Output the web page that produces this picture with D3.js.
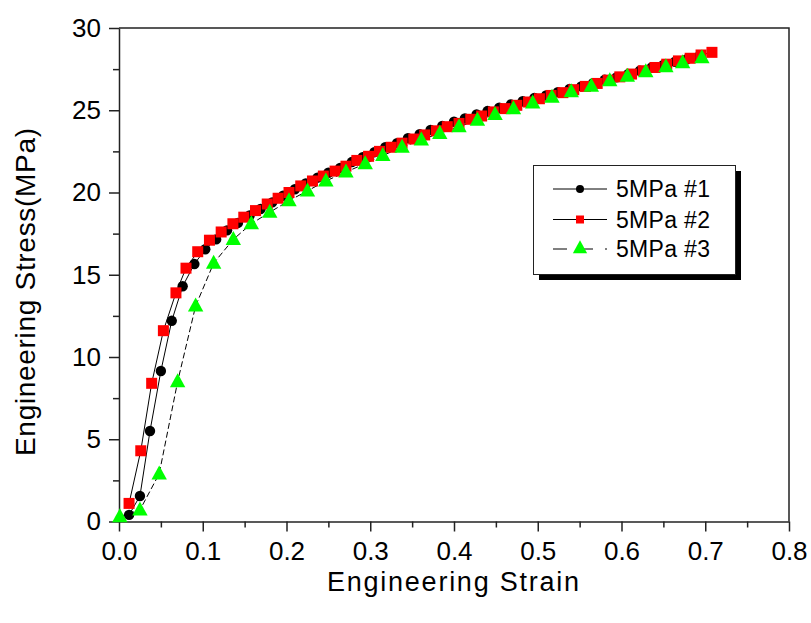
<!DOCTYPE html>
<html>
<head>
<meta charset="utf-8">
<script src="https://cdn.jsdelivr.net/npm/d3@7"></script>
<style>
  html, body { margin: 0; padding: 0; background: #fff; }
  svg { display: block; }
  text { font-family: Arial, "Liberation Sans", sans-serif; fill: #000; }
</style>
</head>
<body>
<svg id="chart" width="811" height="623"></svg>
<script>
// ---- Data ----
const seriesNames = ["5MPa #1", "5MPa #2", "5MPa #3"];

const strain1 = [0.012, 0.025, 0.037, 0.050, 0.063, 0.076, 0.090, 0.103, 0.116, 0.129,
  0.142, 0.156, 0.169, 0.183, 0.196, 0.210, 0.223, 0.237, 0.250, 0.264,
  0.278, 0.291, 0.305, 0.318, 0.332, 0.345, 0.359, 0.372, 0.386, 0.400,
  0.413, 0.427, 0.440, 0.454, 0.468, 0.482, 0.496, 0.510, 0.524, 0.538,
  0.552, 0.566, 0.580, 0.594, 0.608, 0.622, 0.636, 0.650, 0.664, 0.678, 0.692];
const stress1 = [0.4, 1.55, 5.5, 9.15, 12.2, 14.3, 15.65, 16.55, 17.15, 17.7,
  18.15, 18.6, 19.0, 19.4, 19.8, 20.2, 20.55, 20.9, 21.2, 21.5,
  21.85, 22.15, 22.45, 22.75, 23.0, 23.3, 23.55, 23.8, 24.05, 24.3,
  24.5, 24.75, 24.95, 25.15, 25.35, 25.55, 25.75, 25.9, 26.1, 26.3,
  26.45, 26.65, 26.85, 27.0, 27.2, 27.4, 27.6, 27.75, 27.95, 28.1, 28.25];

const strain2 = [0.012, 0.026, 0.039, 0.053, 0.068, 0.080, 0.094, 0.108, 0.122, 0.136,
  0.149, 0.163, 0.177, 0.190, 0.203, 0.217, 0.231, 0.244, 0.258, 0.271,
  0.284, 0.298, 0.311, 0.325, 0.338, 0.352, 0.365, 0.379, 0.392, 0.406,
  0.420, 0.433, 0.447, 0.461, 0.475, 0.489, 0.502, 0.516, 0.530, 0.543,
  0.557, 0.571, 0.584, 0.598, 0.612, 0.626, 0.640, 0.654, 0.668, 0.682, 0.695, 0.708];
const stress2 = [1.1, 4.3, 8.4, 11.6, 13.9, 15.4, 16.4, 17.1, 17.6, 18.1,
  18.5, 18.9, 19.3, 19.65, 20.0, 20.4, 20.7, 21.0, 21.3, 21.6,
  21.95, 22.2, 22.5, 22.75, 23.0, 23.25, 23.5, 23.75, 24.0, 24.2,
  24.45, 24.65, 24.9, 25.1, 25.3, 25.5, 25.7, 25.9, 26.07, 26.25,
  26.45, 26.63, 26.83, 27.03, 27.2, 27.4, 27.6, 27.8, 28.0, 28.16, 28.36, 28.52];

const strain3 = [0.001, 0.025, 0.048, 0.070, 0.0915, 0.113, 0.1365, 0.158, 0.180, 0.203,
  0.225, 0.247, 0.271, 0.294, 0.315, 0.338, 0.361, 0.383, 0.406, 0.428,
  0.449, 0.471, 0.494, 0.517, 0.540, 0.564, 0.586, 0.607, 0.629, 0.653, 0.673, 0.696];
const stress3 = [0.3, 0.7, 2.9, 8.5, 13.1, 15.7, 17.15, 18.1, 18.8, 19.5,
  20.1, 20.7, 21.25, 21.75, 22.25, 22.75, 23.2, 23.6, 24.0, 24.4,
  24.75, 25.1, 25.45, 25.8, 26.13, 26.47, 26.8, 27.08, 27.35, 27.65, 27.9, 28.2];

const xTicks = [0, 0.1, 0.2, 0.3, 0.4, 0.5, 0.6, 0.7, 0.8];
const xTickLabels = ["0.0", "0.1", "0.2", "0.3", "0.4", "0.5", "0.6", "0.7", "0.8"];
const yTicks = [0, 5, 10, 15, 20, 25, 30];
const xMinor = [0.05, 0.15, 0.25, 0.35, 0.45, 0.55, 0.65, 0.75];
const yMinor = [2.5, 7.5, 12.5, 17.5, 22.5, 27.5];

// ---- Layout ----
const svg = d3.select("#chart");
const pLeft = 119, pRight = 789, pTop = 28, pBottom = 521.5;
const x = d3.scaleLinear().domain([0, 0.8]).range([pLeft, pRight]);
const y = d3.scaleLinear().domain([0, 30]).range([pBottom, pTop]);
const axisColor = "#222";

// frame (top & right)
svg.append("path")
  .attr("d", `M${pLeft},${pTop}H${pRight}V${pBottom}`)
  .attr("fill", "none").attr("stroke", axisColor).attr("stroke-width", 1.5);

function styleAxis(g) {
  g.selectAll(".domain").attr("stroke", axisColor).attr("stroke-width", 1.5);
  g.selectAll(".tick line").attr("stroke", axisColor).attr("stroke-width", 1.5);
  g.selectAll("text").attr("font-size", 26).attr("font-family", "Arial, 'Liberation Sans', sans-serif").attr("fill", "#000");
}

// x axis
const gx = svg.append("g").attr("transform", `translate(0,${pBottom})`)
  .call(d3.axisBottom(x).tickValues(xTicks).tickSize(10).tickSizeOuter(0)
    .tickPadding(10).tickFormat((d, i) => xTickLabels[i]));
styleAxis(gx);
const gxm = svg.append("g").attr("transform", `translate(0,${pBottom})`)
  .call(d3.axisBottom(x).tickValues(xMinor).tickSize(6).tickFormat(""));
gxm.select(".domain").remove();
styleAxis(gxm);

// y axis
const gy = svg.append("g").attr("transform", `translate(${pLeft},0)`)
  .call(d3.axisLeft(y).tickValues(yTicks).tickSize(10).tickSizeOuter(0)
    .tickPadding(8).tickFormat(d3.format("d")));
styleAxis(gy);
const gym = svg.append("g").attr("transform", `translate(${pLeft},0)`)
  .call(d3.axisLeft(y).tickValues(yMinor).tickSize(6).tickFormat(""));
gym.select(".domain").remove();
styleAxis(gym);

// axis titles
svg.append("text")
  .attr("x", 453).attr("y", 591)
  .attr("text-anchor", "middle")
  .attr("font-size", 27)
  .attr("textLength", 252).attr("lengthAdjust", "spacing")
  .text("Engineering Strain");
svg.append("text")
  .attr("transform", "translate(35,292) rotate(-90)")
  .attr("text-anchor", "middle")
  .attr("font-size", 28)
  .attr("textLength", 328).attr("lengthAdjust", "spacing")
  .text("Engineering Stress(MPa)");

// ---- Series ----
const data1 = strain1.map((s, i) => [s, stress1[i]]);
const data2 = strain2.map((s, i) => [s, stress2[i]]);
const data3 = strain3.map((s, i) => [s, stress3[i]]);
const line = d3.line().x(d => x(d[0])).y(d => y(d[1]));

const plot = svg.append("g");
// lines
plot.append("path").datum(data1).attr("d", line)
  .attr("fill", "none").attr("stroke", "#000").attr("stroke-width", 1);
plot.append("path").datum(data2).attr("d", line)
  .attr("fill", "none").attr("stroke", "#000").attr("stroke-width", 1);
plot.append("path").datum(data3).attr("d", line)
  .attr("fill", "none").attr("stroke", "#000").attr("stroke-width", 1)
  .attr("stroke-dasharray", "6,3");

function triPath(cx, cy, s) {
  return `M${cx},${cy - s * 0.6}L${cx + s * 0.55},${cy + s * 0.4}L${cx - s * 0.55},${cy + s * 0.4}Z`;
}

// markers
plot.append("g").selectAll("circle").data(data1).join("circle")
  .attr("cx", d => x(d[0])).attr("cy", d => y(d[1])).attr("r", 5.2)
  .attr("fill", "#000");
plot.append("g").selectAll("rect").data(data2).join("rect")
  .attr("x", d => x(d[0]) - 5.5).attr("y", d => y(d[1]) - 5.5)
  .attr("width", 11).attr("height", 11).attr("fill", "#ff0000");
plot.append("g").selectAll("path").data(data3).join("path")
  .attr("d", d => triPath(x(d[0]), y(d[1]), 14))
  .attr("fill", "#00ff00");

// ---- Legend ----
const lg = svg.append("g");
lg.append("rect").attr("x", 539).attr("y", 171).attr("width", 202).attr("height", 109).attr("fill", "#000");
lg.append("rect").attr("x", 533.5).attr("y", 165.5).attr("width", 202).attr("height", 109)
  .attr("fill", "#fff").attr("stroke", "#222").attr("stroke-width", 1);
const rows = [189, 219.5, 249];
rows.forEach((ry, i) => {
  const l = lg.append("line").attr("x1", 553).attr("x2", 607).attr("y1", ry).attr("y2", ry)
    .attr("stroke", "#000").attr("stroke-width", 1);
  if (i === 2) l.attr("stroke-dasharray", "14,12");
  if (i === 0) lg.append("circle").attr("cx", 580).attr("cy", ry).attr("r", 4).attr("fill", "#000");
  if (i === 1) lg.append("rect").attr("x", 576).attr("y", ry - 4).attr("width", 8).attr("height", 8).attr("fill", "#ff0000");
  if (i === 2) lg.append("path").attr("d", triPath(580, ry - 1, 13)).attr("fill", "#00ff00");
  lg.append("text").attr("x", 616).attr("y", ry + 8).attr("font-size", 23)
    .attr("textLength", 94).attr("lengthAdjust", "spacing")
    .text(seriesNames[i]);
});
</script>
</body>
</html>
